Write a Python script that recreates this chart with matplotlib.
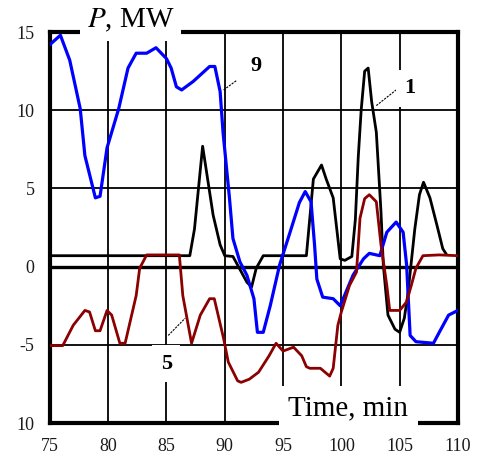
"""Power traces of units 1, 5 and 9 against time."""
import matplotlib

matplotlib.use("Agg")
import matplotlib.pyplot as plt  # noqa: E402

plt.rcParams["font.family"] = ["Liberation Serif", "DejaVu Serif"]
plt.rcParams["mathtext.fontset"] = "stix"

# unit 9 (blue)
t9 = [75, 75.9, 76.7, 77.6, 78.0, 78.9, 79.3, 79.9, 80.9, 81.7, 82.4, 83.3, 84.1,
      85.0, 85.4, 85.85, 86.3, 87.3, 88.7, 89.15, 89.6, 89.85, 90.4, 90.7, 91.3,
      91.9, 92.5, 92.8, 93.3, 93.9, 94.7, 95.6, 96.4, 96.9, 97.4, 97.7, 97.9,
      98.4, 99.3, 99.9, 100.3, 101.0, 101.9, 102.4, 103.3, 103.9, 104.7, 105.3,
      105.6, 105.9, 106.4, 107.9, 108.4, 109.2, 110.0]
p9 = [14.2, 14.8, 13.2, 10.1, 7.1, 4.4, 4.5, 7.6, 10.1, 12.7, 13.65, 13.65, 14.0,
      13.3, 12.7, 11.5, 11.3, 11.85, 12.8, 12.8, 11.2, 8.6, 4.4, 1.8, 0.3,
      -0.55, -2.05, -4.2, -4.2, -2.5, 0.1, 2.2, 4.1, 4.8, 4.15, 1.4, -0.8,
      -1.95, -2.05, -2.5, -1.8, -0.55, 0.5, 0.85, 0.7, 2.2, 2.85, 2.2,
      0.1, -4.4, -4.8, -4.9, -4.2, -3.1, -2.8]

# unit 1 (black)
t1 = [75, 87.0, 87.4, 88.1, 89.0, 89.6, 90.0, 90.7, 91.9, 92.3, 92.7, 93.3, 96.7,
      97.0, 97.6, 98.3, 98.7, 99.3, 99.9, 100.3, 100.9, 101.2, 101.45, 101.7,
      102.0, 102.3, 102.6, 103.0, 103.3, 103.4, 103.6, 104.0, 104.6, 105.0,
      105.4, 105.7, 106.0, 106.3, 106.7, 107.05, 107.6, 108.2, 108.7, 109.0]
p1 = [0.7, 0.7, 2.4, 7.7, 3.3, 1.4, 0.7, 0.65, -1.0, -1.3, -0.1, 0.7, 0.7,
      0.7, 5.6, 6.5, 5.6, 4.4, 0.5, 0.4, 0.65, 3.0, 7.0, 10.0,
      12.5, 12.7, 10.55, 8.6, 4.8, 3.5, 0.1, -3.1, -4.0, -4.2,
      -3.3, -1.8, 0.3, 2.4, 4.6, 5.4, 4.4, 2.65, 1.15, 0.8]

# unit 5 (dark red)
t5 = [75, 76.1, 77.0, 78.0, 78.4, 78.9, 79.3, 79.9, 80.3, 81.0, 81.45, 82.4, 82.7,
      83.3, 86.1, 86.4, 87.15, 87.9, 88.7, 89.1, 89.9, 90.3, 91.1, 91.4, 92.1,
      92.9, 93.8, 94.4, 95.0, 95.9, 96.6, 97.0, 97.3, 98.2, 99.0, 99.3, 99.7,
      100.0, 100.7, 101.3, 101.6, 102.0, 102.4, 103.0, 103.4, 103.9, 104.15,
      105.0, 105.6, 106.0, 106.4, 107.0, 108.4, 110.0]
p5 = [-5.05, -5.05, -3.75, -2.8, -2.9, -4.1, -4.1, -2.8, -3.1, -4.9, -4.9, -1.85, -0.1,
      0.75, 0.75, -1.85, -4.9, -3.1, -2.05, -2.05, -4.6, -6.1, -7.3, -7.4, -7.2,
      -6.75, -5.7, -4.9, -5.4, -5.15, -5.7, -6.4, -6.5, -6.5, -7.0, -6.5, -3.75,
      -2.9, -1.2, -0.35, 3.1, 4.35, 4.6, 4.15, 1.4, -1.2, -2.8,
      -2.8, -2.25, -1.2, -0.1, 0.7, 0.75, 0.7]

x_ticks = [75, 80, 85, 90, 95, 100, 105, 110]
y_ticks = [15, 10, 5, 0, -5, -10]
y_tick_labels = ["15", "10", "5", "0", "-5", "10"]

fig = plt.figure(figsize=(4.8, 4.61), dpi=100)
ax = fig.add_axes([0.104, 0.0824, 0.850, 0.848])

ax.set_xlim(75, 110)
ax.set_ylim(-10, 15)
ax.set_xticks(x_ticks)
ax.set_yticks(y_ticks)
ax.set_yticklabels(y_tick_labels)
ax.tick_params(length=0, pad=11, labelsize=13, colors="#1a1a1a")

for x in x_ticks[1:-1]:
    ax.axvline(x, color="black", lw=1.3, zorder=1)
for y in [10, 5, -5]:
    ax.axhline(y, color="black", lw=1.3, zorder=1)
ax.axhline(0, color="black", lw=2.4, zorder=1.5)

for side in ax.spines.values():
    side.set_linewidth(3)
    side.set_color("black")

ax.plot(t1, p1, color="black", lw=2.0, zorder=3)
ax.plot(t9, p9, color="#0000ff", lw=2.3, zorder=4)
ax.plot(t5, p5, color="#8b0000", lw=2.0, zorder=5)

box = dict(facecolor="white", edgecolor="none", pad=2)
ax.text(81.9, 15.75, r"$P$, MW", fontsize=21, ha="center", va="center",
        bbox=dict(facecolor="white", edgecolor="none", pad=5), zorder=10, clip_on=False)
ax.text(100.6, -9.05, "Time, min", fontsize=21, ha="center", va="center",
        bbox=dict(facecolor="white", edgecolor="none", pad=7), zorder=10, clip_on=False)

# curve labels with dashed leaders
ax.plot([89.9, 91.0], [11.3, 11.9], color="black", lw=0.8, ls=(0, (2, 1)), zorder=6)
ax.text(92.7, 12.8, "9", fontsize=16, fontweight="bold", ha="center", va="center",
        bbox=box, zorder=10)
ax.plot([103.0, 104.7], [10.3, 11.3], color="black", lw=0.8, ls=(0, (2, 1)), zorder=6)
ax.text(105.9, 11.4, "1", fontsize=16, fontweight="bold", ha="center", va="center",
        bbox=dict(facecolor="white", edgecolor="none", pad=6), zorder=10)
ax.plot([85.15, 86.6], [-4.4, -3.3], color="black", lw=0.8, ls=(0, (2, 1)), zorder=6)
ax.text(85.0, -6.2, "5", fontsize=16, fontweight="bold", ha="center", va="center",
        bbox=dict(facecolor="white", edgecolor="none", pad=6), zorder=10)

fig.savefig("out.png", dpi=100)
